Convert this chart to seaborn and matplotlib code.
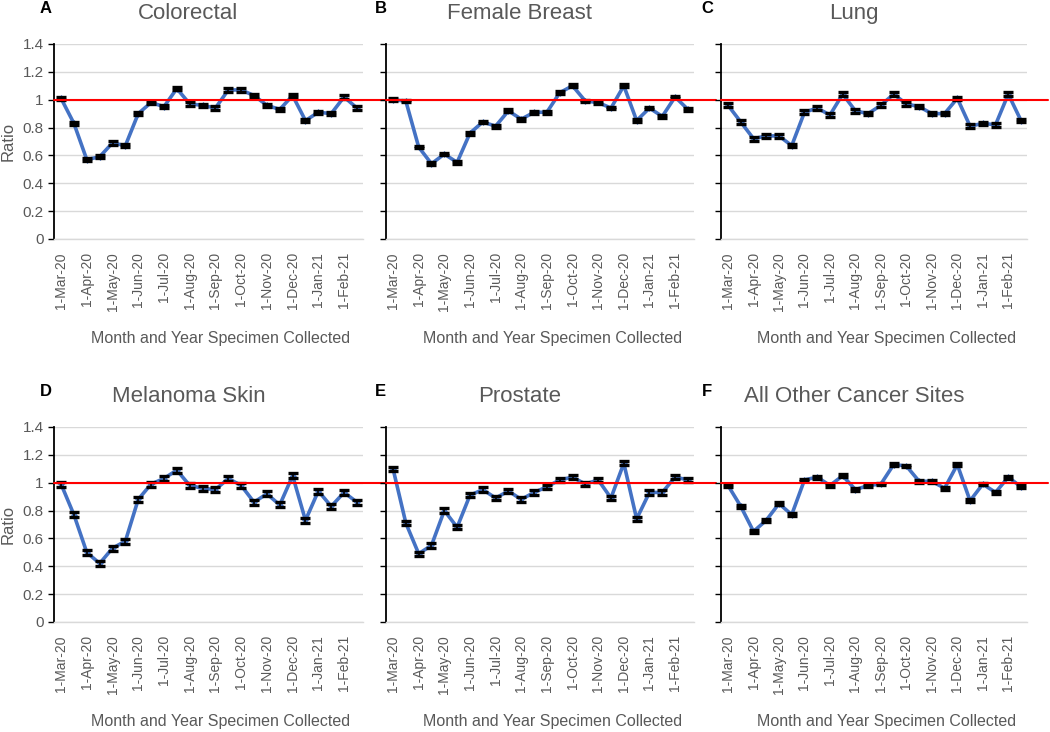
import numpy as np
import pandas as pd
import seaborn as sns
import matplotlib.pyplot as plt

# semi-monthly collection periods, 1-Mar-20 .. 15-Feb-21
month_labels = ["1-Mar-20", "1-Apr-20", "1-May-20", "1-Jun-20", "1-Jul-20", "1-Aug-20",
                "1-Sep-20", "1-Oct-20", "1-Nov-20", "1-Dec-20", "1-Jan-21", "1-Feb-21"]
n_periods = 24

sites = ["Colorectal", "Female Breast", "Lung", "Melanoma Skin", "Prostate", "All Other Cancer Sites"]
panel_letters = ["A", "B", "C", "D", "E", "F"]

colorectal = [1.01, 0.83, 0.57, 0.59, 0.69, 0.67, 0.90, 0.98, 0.95, 1.08, 0.97, 0.96,
              0.94, 1.07, 1.07, 1.03, 0.96, 0.93, 1.03, 0.85, 0.91, 0.90, 1.02, 0.94]
female_breast = [1.00, 0.99, 0.66, 0.54, 0.61, 0.55, 0.76, 0.84, 0.81, 0.92, 0.86, 0.91,
                 0.91, 1.05, 1.10, 0.99, 0.98, 0.94, 1.10, 0.85, 0.94, 0.88, 1.02, 0.93]
lung = [0.96, 0.84, 0.72, 0.74, 0.74, 0.67, 0.91, 0.94, 0.89, 1.04, 0.92, 0.90,
        0.96, 1.04, 0.97, 0.95, 0.90, 0.90, 1.01, 0.81, 0.83, 0.82, 1.04, 0.85]
melanoma_skin = [0.99, 0.77, 0.50, 0.42, 0.53, 0.58, 0.88, 0.99, 1.03, 1.09, 0.98, 0.96,
                 0.95, 1.03, 0.98, 0.86, 0.92, 0.84, 1.05, 0.73, 0.94, 0.83, 0.93, 0.86]
prostate = [1.10, 0.71, 0.49, 0.55, 0.80, 0.68, 0.91, 0.95, 0.89, 0.94, 0.88, 0.93,
            0.97, 1.02, 1.04, 0.99, 1.02, 0.89, 1.14, 0.74, 0.93, 0.93, 1.04, 1.02]
other_sites = [0.98, 0.83, 0.65, 0.73, 0.85, 0.77, 1.02, 1.04, 0.98, 1.05, 0.95, 0.98,
               0.99, 1.13, 1.12, 1.01, 1.01, 0.96, 1.13, 0.87, 0.99, 0.93, 1.04, 0.97]
# half-width of the confidence interval shown as caps
ci_half = [0.012, 0.010, 0.013, 0.018, 0.016, 0.010]

series = [colorectal, female_breast, lung, melanoma_skin, prostate, other_sites]

sns.set_theme(style="white")
plt.rcParams['font.family'] = ['Liberation Sans', 'DejaVu Sans']

fig = plt.figure(figsize=(10.5, 7.32), dpi=100)

# axes boxes in figure fractions
lefts = [0.0514, 0.3676, 0.6867]
widths = [0.2943, 0.2933, 0.2914]
bottoms = [0.6735, 0.1503]
height = 0.2664
letter_x = [0.038, 0.357, 0.668]
letter_y = [0.982, 0.459]

grey = "#595959"
blue = "#4472C4"

for i, (site, vals) in enumerate(zip(sites, series)):
    row, col = divmod(i, 3)
    ax = fig.add_axes([lefts[col], bottoms[row], widths[col], height])
    df = pd.DataFrame({"period": np.arange(n_periods), "ratio": vals})

    ax.errorbar(df["period"], df["ratio"], yerr=ci_half[i], fmt="none", ecolor="black",
                elinewidth=1.2, capsize=3.6, capthick=2.4, zorder=3)
    sns.lineplot(data=df, x="period", y="ratio", ax=ax, color=blue, linewidth=2.6,
                 marker="D", markersize=3.5, markeredgewidth=0, zorder=2)
    ax.axhline(1, xmin=0, xmax=1.07, color="red", linewidth=1.5, clip_on=False, zorder=4)

    ax.set_xlim(-0.55, 23.47)
    ax.set_ylim(0, 1.4)
    yt = np.arange(0, 1.41, 0.2)
    ax.set_yticks(yt)
    ax.yaxis.grid(True, color="#D9D9D9", linewidth=1)
    ax.set_axisbelow(True)
    ax.set_xticks(np.arange(0, n_periods, 2))
    ax.set_xticklabels(month_labels, rotation=90, fontsize=10, color=grey)
    ax.tick_params(axis="x", length=0, pad=9.5)
    ax.tick_params(axis="y", direction="out", length=4.5, width=1, color="black",
                   left=True, labelsize=11, labelcolor=grey, pad=3)
    if col == 0:
        ax.set_yticklabels(["0", "0.2", "0.4", "0.6", "0.8", "1", "1.2", "1.4"])
        ax.set_ylabel("Ratio", fontsize=12, color=grey, labelpad=5)
    else:
        ax.set_yticklabels([])
        ax.set_ylabel("")

    ax.set_xlabel("Month and Year Specimen Collected", fontsize=11.5, color=grey)
    ax.xaxis.set_label_coords(0.54, -0.47)

    for side in ["top", "right"]:
        ax.spines[side].set_visible(False)
    ax.spines["left"].set_color("black")
    ax.spines["left"].set_linewidth(1.3)
    ax.spines["bottom"].set_color("#D9D9D9")
    ax.spines["bottom"].set_linewidth(1)

    ax.set_title(site, fontsize=16, color=grey, x=0.435, pad=18)
    fig.text(letter_x[col], letter_y[row], panel_letters[i], fontsize=12,
             fontweight="bold", color="black")

fig.savefig("out.png", dpi=100)
